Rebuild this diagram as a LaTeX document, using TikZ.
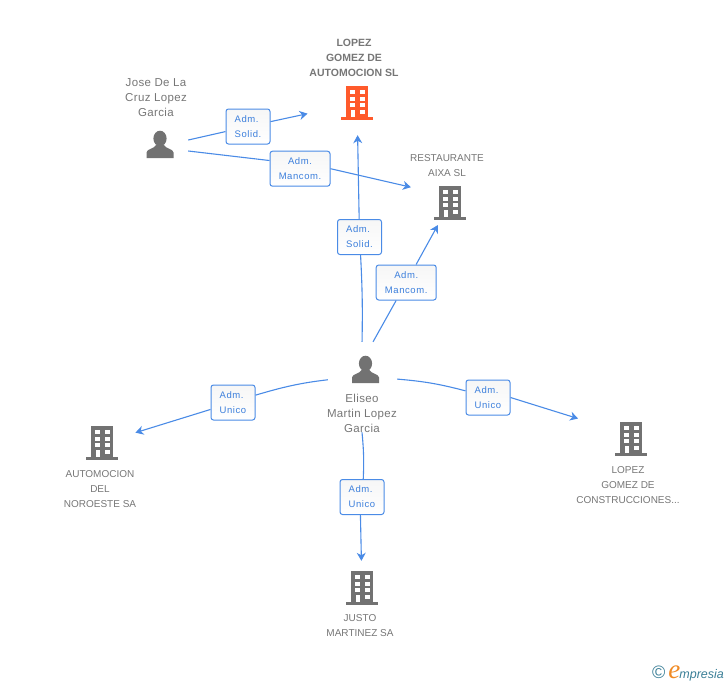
\documentclass[tikz,border=0pt]{standalone}
\usepackage{fontspec}
\setmainfont{Liberation Sans}
\newfontfamily\boxfont[LetterSpace=6]{Liberation Sans}
\newfontfamily\perfont[LetterSpace=3]{Liberation Sans}
\newfontfamily\logofont{Liberation Serif}
\usetikzlibrary{arrows.meta}
\definecolor{linkblue}{HTML}{4A8BE6}
\definecolor{boxblue}{HTML}{3C7FDC}
\definecolor{icongrey}{HTML}{727272}
\definecolor{textgrey}{HTML}{767676}
\definecolor{iconred}{HTML}{FF5A2B}
\definecolor{logoteal}{HTML}{3B7F97}
\definecolor{logoorange}{HTML}{F08A24}
\tikzset{
  building/.style={rectangle,minimum width=32pt,minimum height=34pt,inner sep=0pt,
    path picture={
      \begin{scope}[shift={(path picture bounding box.center)}]
        \fill[#1] (-11,-17) rectangle (11,15);
        \fill[#1] (-16,14) rectangle (16,17);
        \foreach \wy in {-13,-6.5,0,6.5}{
          \fill[white] (-7,\wy) rectangle (-2,\wy+4.3);
          \fill[white] (2.5,\wy) rectangle (7.5,\wy+4.3);
        }
        \fill[#1] (-7.5,6) rectangle (-1.5,11);
        \fill[white] (-6.5,7) rectangle (-2,14);
      \end{scope}
    }},
  person/.style={rectangle,minimum width=56pt,minimum height=56pt,inner sep=0pt,
    path picture={
      \begin{scope}[shift={(path picture bounding box.center)}]
        \fill[icongrey] (0,-6.5) ellipse (6.6 and 7.8);
        \fill[icongrey] (-13.5,13) -- (-13.5,7.5) .. controls (-13.5,4) and (-6,4) .. (-4,0)
          -- (4,0) .. controls (6,4) and (13.5,4) .. (13.5,7.5) -- (13.5,13) -- cycle;
      \end{scope}
    }},
  orglabel/.style={align=center,text=textgrey,inner sep=0pt,font=\fontsize{10}{15}\selectfont},
  perlabel/.style={align=center,text=textgrey,inner sep=0pt,font=\perfont\fontsize{11.5}{15}\selectfont},
  admbox/.style={draw=linkblue,line width=1pt,rounded corners=2.5pt,top color=gray!7,bottom color=white,
    text=boxblue,align=left,inner sep=0pt,minimum width=#1,minimum height=35pt,
    font=\boxfont\fontsize{9.5}{15}\selectfont},
  admbox/.default=44pt,
  admwide/.style={admbox=60pt,align=center},
  link/.style={draw=linkblue,line width=1.1pt},
  linktip/.style={link,-{Stealth[length=8pt,width=9pt,inset=2.5pt]}},
}
\begin{document}
\begin{tikzpicture}[x=1pt,y=-1pt]
  \useasboundingbox (0,0) rectangle (728,685);
  % companies
  \node[building=iconred] (lopezauto) at (357,103) {};
  \node[building=icongrey] (aixa) at (450,203) {};
  \node[building=icongrey] (noroeste) at (102,443) {};
  \node[building=icongrey] (construc) at (631,439) {};
  \node[building=icongrey] (justo) at (362,588) {};
  % people
  \node[person] (jose) at (160,145) {};
  \node[person,minimum width=63pt] (eliseo) at (365.5,370) {};
  % names
  \node[orglabel,font=\fontsize{10.5}{15}\selectfont\bfseries] (lopezautotxt) at (354,58) {LOPEZ\\GOMEZ DE\\AUTOMOCION SL};
  \node[perlabel] (josetxt) at (156,98) {Jose De La\\Cruz Lopez\\Garcia};
  \node[orglabel] (aixatxt) at (447,165.5) {RESTAURANTE\\AIXA SL};
  \node[perlabel] (eliseotxt) at (362,413) {Eliseo\\Martin Lopez\\Garcia};
  \node[orglabel] (noroestetxt) at (100,489) {AUTOMOCION\\DEL\\NOROESTE SA};
  \node[orglabel] (constructxt) at (628,485) {LOPEZ\\GOMEZ DE\\CONSTRUCCIONES...};
  \node[orglabel] (justotxt) at (360,625.5) {JUSTO\\MARTINEZ SA};
  % boxes
  \node[admbox] (josesolid) at (248,126.5) {Adm.\\Solid.};
  \node[admwide] (josemancom) at (300,168.7) {Adm.\\Mancom.};
  \node[admbox] (eliseosolid) at (359.5,237) {Adm.\\Solid.};
  \node[admwide] (eliseomancom) at (406.2,282.5) {Adm.\\Mancom.};
  \node[admbox] (unicoleft) at (233,402.5) {Adm.\\Unico};
  \node[admbox] (unicoright) at (488,397.5) {Adm.\\Unico};
  \node[admbox] (unicodown) at (362,497) {Adm.\\Unico};
  % links
  \draw[link] (jose.10) -- (josesolid);
  \draw[linktip,shorten >=34pt] (josesolid) -- (lopezauto);
  \draw[link] (jose.-12) -- (josemancom.165);
  \draw[linktip,shorten >=23.5pt] (josemancom.east) -- (aixa.147);
  \draw[link] (eliseo.97) to[bend right=2] (eliseosolid);
  \draw[linktip,shorten >=15pt] (eliseosolid) -- (lopezauto);
  \draw[link] (eliseo.75) -- (eliseomancom);
  \draw[linktip,shorten >=5.5pt] (eliseomancom) -- (aixa);
  \draw[link,shorten <=6pt] (eliseo.196) to[bend right=5] (unicoleft);
  \draw[linktip,shorten >=18pt] (unicoleft) -- (noroeste);
  \draw[link] (eliseo.-16) to[bend left=5] (unicoright);
  \draw[linktip,shorten >=38.5pt] (unicoright.east) -- (construc.151);
  \draw[link] (eliseotxt.south) to[bend left=4] (unicodown);
  \draw[linktip,shorten >=10pt] (unicodown.-95) -- (justo);
  % logo
  \node[inner sep=0pt,text=logoteal,font=\itshape\fontsize{12.5}{15}\selectfont] (logo) at (688,673.5)
    {{\upshape\fontsize{18}{15}\selectfont\textcopyright}\hspace{3pt}{\logofont\color{logoorange}\fontsize{27}{15}\selectfont e}\hspace{-1pt}mpresia};
\end{tikzpicture}
\end{document}
